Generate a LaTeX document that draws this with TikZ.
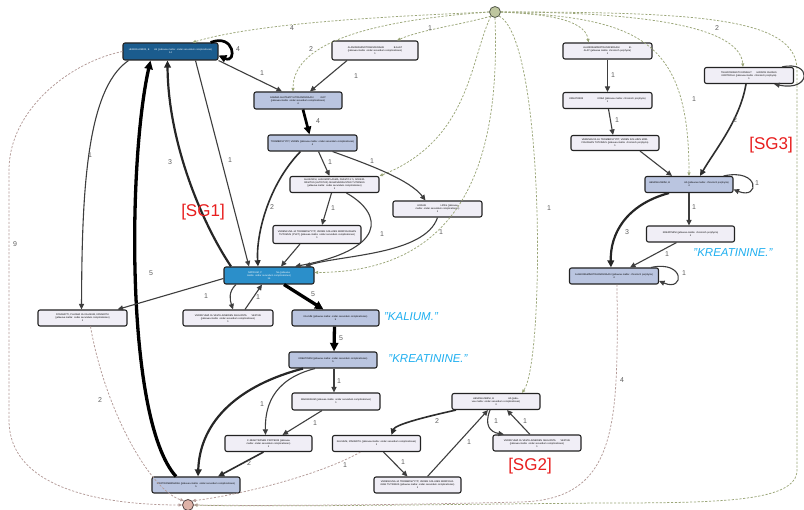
\documentclass[tikz,border=0pt]{standalone}
\usepackage{fontspec}
\setmainfont{Liberation Sans}
\usetikzlibrary{arrows.meta}
\definecolor{wfill}{RGB}{240,238,246}
\definecolor{lfill}{RGB}{186,197,224}
\definecolor{mfill}{RGB}{43,143,202}
\definecolor{dfill}{RGB}{27,92,142}
\definecolor{bord}{RGB}{35,35,35}
\definecolor{ec1}{RGB}{62,62,62}
\definecolor{ec2}{RGB}{45,45,45}
\definecolor{sdc}{RGB}{155,166,120}
\definecolor{edc}{RGB}{180,155,152}
\definecolor{lblc}{RGB}{95,95,95}
\definecolor{sgred}{RGB}{232,30,30}
\definecolor{cyanc}{RGB}{30,175,240}
\newcommand\bx[7]{\pgfmathsetmacro\bxw{#4-5}\node[#6,minimum width=#4pt,minimum height=#5pt,text width=\bxw pt] (#1) at (#2,#3) {#7};}
\begin{document}
\begin{tikzpicture}[x=1pt,y=-1pt,
  box/.style={draw=bord,line width=1.1pt,rounded corners=2pt,inner sep=0.8pt,align=center,font=\fontsize{2.4}{3}\selectfont},
  wbox/.style={box,fill=wfill},
  lbox/.style={box,fill=lfill},
  mbox/.style={box,fill=mfill,text=white},
  dbox/.style={box,fill=dfill,text=white},
  lbl/.style={font=\fontsize{7}{8}\selectfont,text=lblc,inner sep=0pt},
  e1/.style={draw=ec1,line width=1.1pt,-{Triangle[length=4pt 1.4,width=3.5pt 1.4]}},
  e2/.style={draw=ec2,line width=1.6pt,-{Triangle[length=4pt 1.4,width=3.5pt 1.4]}},
  e3/.style={draw=black!85,line width=2.2pt,-{Triangle[length=4pt 1.4,width=3.5pt 1.4]}},
  e4/.style={draw=black,line width=2.7pt,-{Triangle[length=4pt 1.4,width=3.5pt 1.4]}},
  e5/.style={draw=black,line width=3.3pt,-{Triangle[length=4pt 1.4,width=3.5pt 1.4]}},
  sd/.style={draw=sdc,line width=0.75pt,dash pattern=on 2.2pt off 1.6pt,-{Triangle[length=3.5pt,width=3pt]}},
  ed/.style={draw=edc,line width=0.75pt,dash pattern=on 2.2pt off 1.6pt,-{Triangle[length=3.5pt,width=3pt]}},
  sg/.style={font=\fontsize{17}{18}\selectfont,text=sgred,inner sep=0pt},
  cy/.style={font=\fontsize{11.5}{12}\selectfont\itshape,text=cyanc,inner sep=0pt}
]
\useasboundingbox (0,0) rectangle (804,510);
\fill[white] (0,0) rectangle (804,510);

% start / end
\node[circle,minimum size=11pt,inner sep=0pt,fill={rgb,255:red,190;green,198;blue,158},draw={rgb,255:red,85;green,90;blue,75},line width=0.8pt] (S) at (495,12) {};
\node[circle,minimum size=11pt,inner sep=0pt,fill={rgb,255:red,222;green,178;blue,168},draw={rgb,255:red,85;green,70;blue,70},line width=0.8pt] (E) at (188,505) {};

% boxes
\bx{N1}{170.5}{51.5}{95}{17}{dbox}{HEMOGLOBIINI, B\qquad Hb (jatkuvaa mallia: ondar secundum complicationes)\\14}
\bx{N2}{375}{50.5}{86}{19}{wbox}{ALANIINIAMINOTRANSFERAASI\qquad\qquad B-ALAT (jatkuvaa mallia: ondar secundum complicationes)\\1}
\bx{N3}{298}{100.5}{88}{17}{lbox}{GAMMA-GLUTAMYYLITRANSFERAASI\qquad\quad GGT (jatkuvaa mallia: ondar secundum complicationes)\\4}
\bx{N4}{312.5}{143}{89}{16}{lbox}{TROMBOSYYTIT, VEREN (jatkuvaa mallia: ondar secundum complicationes)\\4}
\bx{N5}{334.5}{184.5}{89}{16}{wbox}{GLUKOOSI, LASKIMOPLASMA, PAASTO 2 h, SOKERIRASITUS (ALTISTUS) SILMASAIRAUSTEN TUTKIMUS (jatkuvaa mallia: ondar secundum complicationes)\\1}
\bx{N6}{437.5}{209}{89}{16}{wbox}{LIPAASI\qquad\qquad\qquad LIPAS (jatkuvaa mallia: ondar secundum complicationes)\\1}
\bx{N7}{317}{234.5}{88}{18}{wbox}{VERENKUVA JA TROMBOSYYTIT, VEREN SOLUJEN MORFOLOGIAN TUTKIMUS (PVKT) (jatkuvaa mallia: ondar secundum complicationes)\\1}
\bx{N8}{269}{275.5}{90}{17}{mbox}{NATRIUM, P\qquad\qquad\qquad Na (jatkuvaa mallia: ondar secundum complicationes)\\14}
\bx{N9}{228}{318}{90}{16}{wbox}{VERIRYHMÄ JA VASTA-AINEIDEN SEULONTA\qquad VERYVA (jatkuvaa mallia: ondar secundum complicationes)\\1}
\bx{N10}{335.5}{318}{87}{16}{lbox}{KALIUM (jatkuvaa mallia: ondar secundum complicationes)\\5}
\bx{N11}{333}{360}{88}{16}{lbox}{KREATINIINI (jatkuvaa mallia: ondar secundum complicationes)\\5}
\bx{N12}{336}{401.5}{88}{17}{wbox}{MAGNESIUM (jatkuvaa mallia: ondar secundum complicationes)\\1}
\bx{N13}{268.5}{443.5}{87}{16}{wbox}{C-REAKTIIVINEN PROTEIINI (jatkuvaa mallia: ondar secundum complicationes)\\1}
\bx{N14}{376.5}{443.5}{88}{16}{wbox}{KALSIUM, IONISOITU (jatkuvaa mallia: ondar secundum complicationes)\\1}
\bx{N15}{417.5}{485}{87}{16}{wbox}{VERENKUVA JA TROMBOSYYTIT, VEREN SOLUJEN MORFOLOGIAN TUTKIMUS (jatkuvaa mallia: ondar secundum complicationes)\\1}
\bx{N16}{496}{401.5}{88}{16}{wbox}{HEMOGLOBIINI, B\qquad\qquad\qquad Hb (jatkuvaa mallia: ondar secundum complicationes)\\3}
\bx{N17}{537}{443}{88}{16}{wbox}{VERIRYHMÄ JA VASTA-AINEIDEN SEULONTA\qquad VERYVA (jatkuvaa mallia: ondar secundum complicationes)\\1}
\bx{N18}{196}{485}{88}{16}{lbox}{PROTROMBIINIAIKA (jatkuvaa mallia: ondar secundum complicationes)\\5}
\bx{N19}{82.5}{318}{89}{16}{wbox}{FOSFAATTI, PLASMA JA KALSIUM, IONISOITU (jatkuvaa mallia: ondar secundum complicationes)\\1}
\bx{R1}{607.5}{51}{89}{16}{wbox}{ALANIINIAMINOTRANSFERAASI\qquad\qquad B-ALAT (jatkuvaa mallia: chronisch porphyria)\\1}
\bx{R2}{607.5}{100.5}{89}{16}{wbox}{KREATINIINI\qquad\qquad\qquad KREA (jatkuvaa mallia: chronisch porphyria)\\1}
\bx{R3}{615}{143}{88}{15}{wbox}{VERENKUVA JA TROMBOSYYTIT, VEREN SOLUJEN MORFOLOGIAN TUTKIMUS (jatkuvaa mallia: chronisch porphyria)\\1}
\bx{R4}{749}{75.5}{89}{16}{wbox}{TELEFONISESTI KONSULT\qquad HOIDON OHJAUS\quad KONTROLLI (jatkuvaa mallia: chronisch porphyria)\\1}
\bx{R5}{689}{184.5}{88}{16}{lbox}{HEMOGLOBIINI, B\qquad\qquad\qquad Hb (jatkuvaa mallia: chronisch porphyria)\\4}
\bx{R6}{690.5}{234}{88}{16}{wbox}{KREATINIINI (jatkuvaa mallia: chronisch porphyria)\\1}
\bx{R7}{614}{276}{89}{16}{lbox}{ALANIINIAMINOTRANSFERAASI (jatkuvaa mallia: chronisch porphyria)\\4}

% start dashed connectors
\draw[sd] (S.west) .. controls (400,16) and (260,22) .. ([xshift=22pt]N1.north) node[lbl] at (292,28) {4};
\draw[sd] (S.south west) .. controls (460,25) and (420,30) .. ([xshift=22pt]N2.north) node[lbl] at (430,28) {1};
\draw[sd] (S.west) .. controls (380,20) and (293,40) .. ([xshift=-5pt]N3.north) node[lbl] at (311,49) {2};
\draw[sd] (S.south west) .. controls (470,60) and (470,140) .. (N5.north east);
\draw[sd] (S.south) .. controls (500,150) and (470,272) .. ([yshift=3pt]N8.east);
\draw[sd] (S.south east) .. controls (545,40) and (545,360) .. ([xshift=26pt]N16.north) node[lbl] at (549,208) {1};
\draw[sd] (S.east) .. controls (540,14) and (585,18) .. ([xshift=-19pt]R1.north);
\draw[sd] (S.east) .. controls (660,12) and (740,30) .. ([xshift=-6pt]R4.north);
\draw[sd] (S.east) .. controls (640,18) and (689,40) .. (R5.north) node[lbl] at (694,99) {1};
\draw[sd] (S.east) .. controls (700,12) and (797,18) .. (797,70) -- (797,470) .. controls (797,502) and (720,503) .. (600,503) .. controls (400,505) and (260,507) .. (E.east) node[lbl] at (717,28) {2};

% end dashed connectors
\draw[ed] (N1.west) .. controls (70,62) and (9,110) .. (9,170) -- (9,420) .. controls (9,495) and (120,505) .. (E.west) node[lbl] at (15,244) {9};
\draw[ed] ([xshift=8pt]N19.south) .. controls (105,410) and (150,490) .. (E.north west) node[lbl] at (100,400) {2};
\draw[ed] ([xshift=-16pt]N14.south) .. controls (320,475) and (240,495) .. (E.north east) node[lbl] at (345,465) {1};
\draw[ed] ([xshift=3pt]R7.south) .. controls (618,420) and (620,500) .. (520,502) .. controls (400,505) and (260,506) .. (E.east) node[lbl] at (622,380) {4};

% left cluster
\draw[e4] ([xshift=-8pt]N1.north east) .. controls (235,33) and (237,64) .. ([yshift=-4pt]N1.east) node[lbl] at (238,49) {4};
\draw[e1] ([xshift=-28pt]N2.south) -- ([xshift=12pt]N3.north) node[lbl] at (356,76) {1};
\draw[e1] (N1.south east) -- ([xshift=-16pt]N3.north) node[lbl] at (262,73) {1};
\draw[e4] ([xshift=5pt]N3.south) -- ([xshift=-3pt]N4.north) node[lbl] at (318,121) {4};
\draw[e2] ([xshift=-12pt]N4.south) .. controls (268,185) and (256,235) .. ([xshift=-11pt]N8.north) node[lbl] at (272,207) {2};
\draw[e1] ([xshift=6pt]N4.south) -- ([xshift=-5pt]N5.north) node[lbl] at (330,162) {1};
\draw[e1] ([xshift=20pt]N4.south) .. controls (370,165) and (410,180) .. ([xshift=-12pt]N6.north) node[lbl] at (372,161) {1};
\draw[e1] ([xshift=-3pt]N5.south) -- ([xshift=5pt]N7.north) node[lbl] at (333,208) {1};
\draw[e1] ([xshift=12pt]N5.south) .. controls (385,215) and (385,250) .. ([xshift=26pt]N8.north) node[lbl] at (382,234) {1};
\draw[e1] (N6.south) .. controls (425,255) and (340,255) .. ([xshift=36pt]N8.north) node[lbl] at (441,232) {1};
\draw[e1] ([xshift=-17pt]N7.south) -- ([xshift=12pt]N8.north);
\draw[e3] ([xshift=-38pt]N8.north) .. controls (200,220) and (168,140) .. ([xshift=-3pt]N1.south) node[lbl] at (170,162) {3};
\draw[e1] ([xshift=25pt]N1.south) -- ([xshift=-20pt]N8.north) node[lbl] at (230,160) {1};
\draw[e5] ([xshift=-20pt]N18.north) .. controls (125,420) and (128,160) .. ([xshift=-20pt]N1.south) node[lbl] at (151,273) {5};
\draw[e1] ([xshift=-42pt]N1.south) .. controls (85,90) and (82,200) .. ([xshift=-1pt]N19.north) node[lbl] at (90,155) {1};
\draw[e1] ([yshift=-3pt]N8.west) -- ([xshift=-10pt]N19.north east);
\draw[e1] ([xshift=-33pt]N8.south) .. controls (228,292) and (230,300) .. ([xshift=5pt]N9.north) node[lbl] at (206,296) {1};
\draw[e1] ([xshift=17pt]N9.north) -- ([xshift=-7pt]N8.south) node[lbl] at (258,297) {1};
\draw[e5] ([xshift=15pt]N8.south) -- ([xshift=-12pt]N10.north) node[lbl] at (313,294) {5};
\draw[e5] ([xshift=-1pt]N10.south) -- ([xshift=1pt]N11.north) node[lbl] at (341,338) {5};
\draw[e3] ([xshift=-30pt]N11.south) .. controls (240,385) and (200,420) .. ([xshift=2pt]N18.north);
\draw[e1] ([xshift=1pt]N11.south) -- ([xshift=-2pt]N12.north) node[lbl] at (339,381) {1};
\draw[e1] ([xshift=-18pt]N11.south) .. controls (270,380) and (265,410) .. ([xshift=-3pt]N13.north) node[lbl] at (262,404) {1};
\draw[e1] ([xshift=-14pt]N12.south) -- ([xshift=14pt]N13.north) node[lbl] at (315,423) {1};
\draw[e2] ([xshift=-5pt]N13.south) -- ([xshift=22pt]N18.north) node[lbl] at (249,463) {2};

% SG2 cluster
\draw[e2] ([xshift=-40pt]N16.south) .. controls (420,418) and (395,425) .. ([xshift=15pt]N14.north) node[lbl] at (437,421) {2};
\draw[e1] ([xshift=7pt]N14.south) -- ([xshift=-10pt]N15.north) node[lbl] at (403,462) {1};
\draw[e1] ([xshift=10pt]N15.north) -- ([xshift=-8pt]N16.south) node[lbl] at (469,442) {1};
\draw[e1] ([xshift=-6pt]N16.south) .. controls (484,425) and (490,432) .. ([xshift=-33pt]N17.north) node[lbl] at (496,421) {1};
\draw[e1] ([xshift=-7pt]N17.north) -- ([xshift=11pt]N16.south) node[lbl] at (525,421) {1};

% SG3 cluster
\draw[e1] (R1.south) -- (R2.north) node[lbl] at (613,75) {1};
\draw[e1] ([xshift=1pt]R2.south) -- ([xshift=-2pt]R3.north) node[lbl] at (617,120) {1};
\draw[e1] ([xshift=25pt]R3.south) -- ([xshift=-17pt]R5.north);
\draw[e2] ([xshift=-3pt]R4.south) .. controls (740,120) and (715,150) .. ([xshift=11pt]R5.north) node[lbl] at (735,120) {2};
\draw[e1] ([xshift=-12pt]R4.north east) .. controls (812,60) and (812,92) .. ([xshift=-20pt]R4.south east);
\draw[e1] ([xshift=-10pt]R5.north east) .. controls (760,168) and (760,200) .. ([yshift=-5pt]R5.east) node[lbl] at (757,183) {1};
\draw[e1] (R5.south) -- ([xshift=-1.5pt]R6.north) node[lbl] at (694,207) {1};
\draw[e3] ([xshift=-20pt]R5.south) .. controls (625,205) and (610,235) .. ([xshift=-3pt]R7.north) node[lbl] at (627,232) {3};
\draw[e1] ([xshift=-14pt]R6.south) -- ([xshift=16pt]R7.north) node[lbl] at (667,254) {1};
\draw[e1] ([xshift=-8pt]R7.north east) .. controls (685,260) and (685,292) .. ([yshift=-5pt]R7.east) node[lbl] at (684,273) {1};

% annotations
\node[sg] (sg1) at (203,212) {[SG1]};
\node[sg] (sg2) at (530,466) {[SG2]};
\node[sg] (sg3) at (771,145) {[SG3]};
\node[cy] (c1) at (411,317) {"KALIUM."};
\node[cy] (c2) at (428,359) {"KREATININE."};
\node[cy] (c3) at (733,253) {"KREATININE."};
\end{tikzpicture}
\end{document}
